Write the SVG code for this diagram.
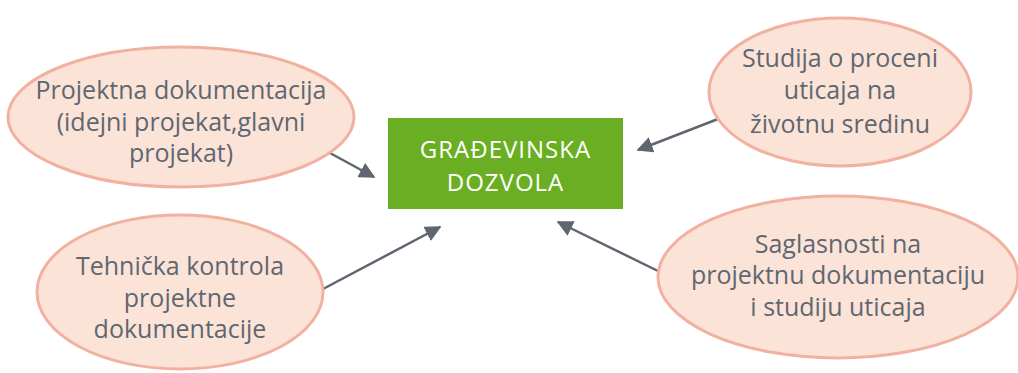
<svg xmlns="http://www.w3.org/2000/svg" width="1018" height="373" viewBox="0 0 1018 373">
<defs>
<style>
.bubble{fill:#fbe3d8;stroke:#f2b1a0;stroke-width:3}
.t{font-family:"Open Sans","Liberation Sans",sans-serif;font-size:25px;fill:#5f6770;text-anchor:middle}
.w{font-family:"Open Sans","Liberation Sans",sans-serif;font-size:24px;letter-spacing:1px;fill:#ffffff;text-anchor:middle}
.c{stroke:#5f6670;stroke-width:2.5;fill:none;marker-end:url(#ah)}
</style>
<marker id="ah" viewBox="0 0 10 10" refX="9" refY="5" markerWidth="6.5" markerHeight="6.5" markerUnits="strokeWidth" orient="auto">
<path d="M0,0 L10,5 L0,10 Z" fill="#5f6670"/>
</marker>
</defs>
<rect width="1018" height="373" fill="#ffffff"/>
<g id="connectors">
<line class="c" x1="330" y1="153" x2="374" y2="177"/>
<line class="c" x1="718" y1="119" x2="638" y2="150"/>
<line class="c" x1="323" y1="289" x2="440" y2="227"/>
<line class="c" x1="658" y1="271" x2="558" y2="222"/>
</g>
<g id="center">
<rect x="388" y="118" width="235" height="91" fill="#6aaf23"/>
<text class="w" x="505.5" y="158">GRAĐEVINSKA</text>
<text class="w" x="505.5" y="191">DOZVOLA</text>
</g>
<g id="projektna">
<ellipse class="bubble" cx="181" cy="117" rx="173" ry="70"/>
<text class="t" x="181" y="99">Projektna dokumentacija</text>
<text class="t" x="181" y="131">(idejni projekat,glavni</text>
<text class="t" x="181" y="162">projekat)</text>
</g>
<g id="studija">
<ellipse class="bubble" cx="840" cy="92" rx="131" ry="74"/>
<text class="t" x="840" y="67">Studija o proceni</text>
<text class="t" x="840" y="99">uticaja na</text>
<text class="t" x="840" y="133">životnu sredinu</text>
</g>
<g id="tehnicka">
<ellipse class="bubble" cx="180" cy="292" rx="143" ry="77"/>
<text class="t" x="180" y="275">Tehnička kontrola</text>
<text class="t" x="180" y="307">projektne</text>
<text class="t" x="180" y="338">dokumentacije</text>
</g>
<g id="saglasnosti">
<ellipse class="bubble" cx="838" cy="277" rx="180" ry="81"/>
<text class="t" x="838" y="253">Saglasnosti na</text>
<text class="t" x="838" y="284">projektnu dokumentaciju</text>
<text class="t" x="838" y="316">i studiju uticaja</text>
</g>
</svg>
